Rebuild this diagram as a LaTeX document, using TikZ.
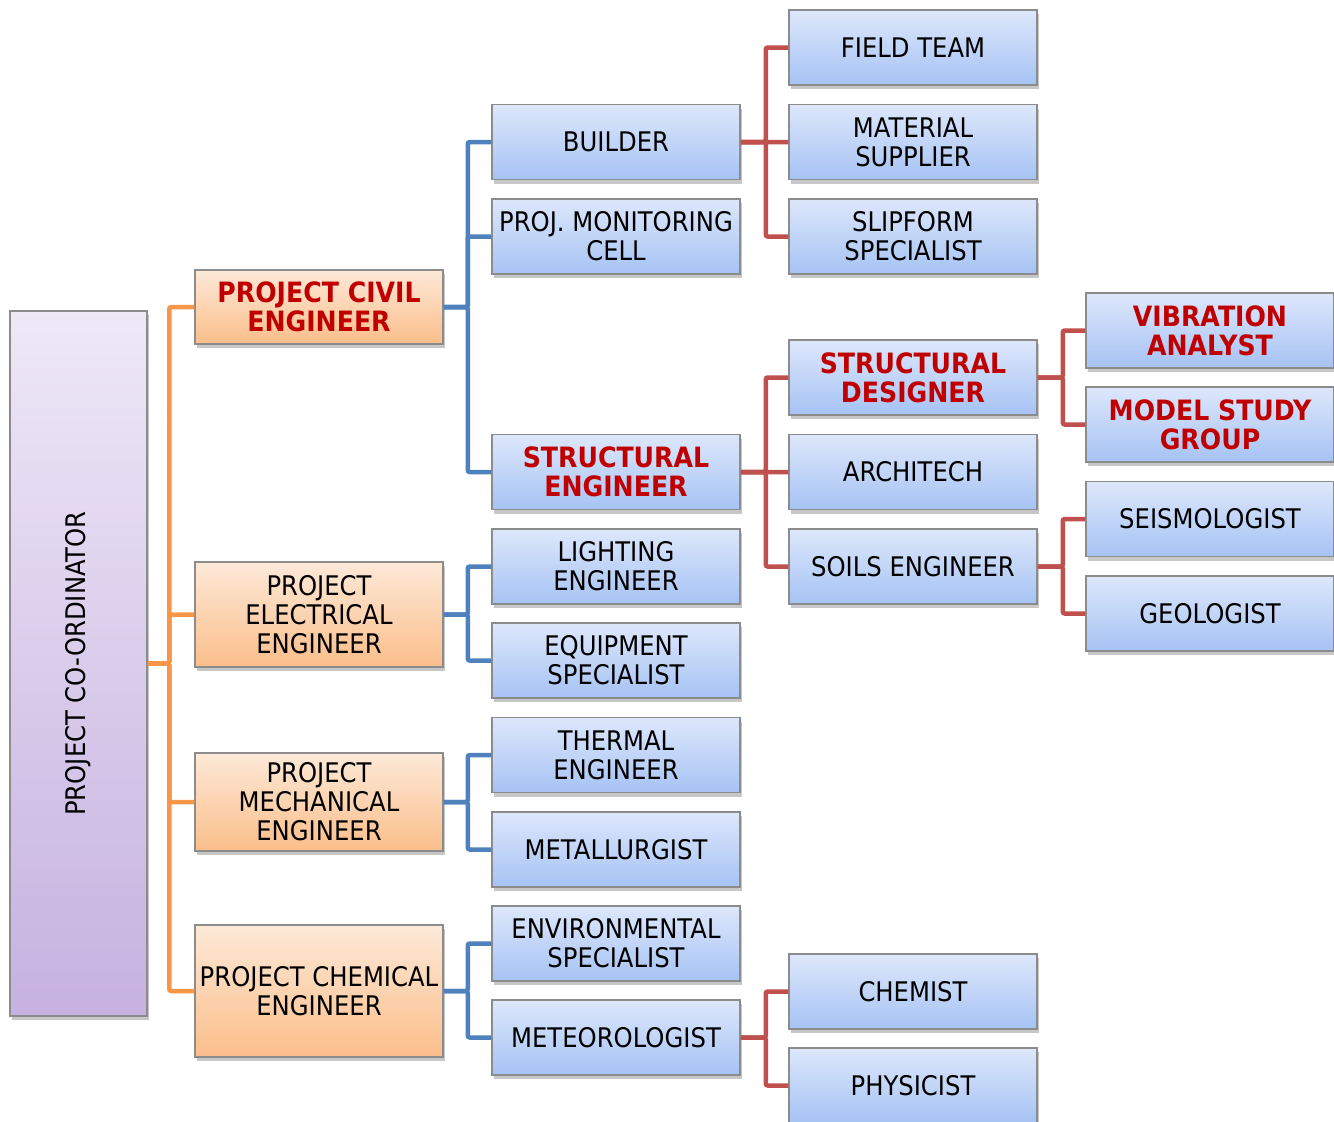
\documentclass[tikz,border=0pt]{standalone}
\usepackage{fontspec}
\setmainfont{DejaVu Sans}[FakeStretch=0.9]
\usetikzlibrary{shadows}
\definecolor{olin}{HTML}{F79646}
\definecolor{blin}{HTML}{4F81BD}
\definecolor{rlin}{HTML}{C0504D}
\definecolor{redtxt}{HTML}{C00000}
\definecolor{btop}{HTML}{DDE7FB}
\definecolor{bbot}{HTML}{A6C3F4}
\definecolor{otop}{HTML}{FDE9D8}
\definecolor{obot}{HTML}{FBBE8A}
\definecolor{ptop}{HTML}{EEE8F7}
\definecolor{pbot}{HTML}{C6B1E0}
\definecolor{bord}{HTML}{8C8C8C}
\tikzset{
  basebox/.style={draw=bord, line width=1.5pt, inner sep=2pt, align=center,
    font=\fontsize{27}{29}\selectfont,
    drop shadow={shadow xshift=2pt, shadow yshift=-4pt, opacity=0.22, fill=black}},
  bluebox/.style={basebox, top color=btop, bottom color=bbot},
  orabox/.style={basebox, top color=otop, bottom color=obot},
  purbox/.style={basebox, top color=ptop, bottom color=pbot},
  hl/.style={font=\fontsize{28}{29}\selectfont\bfseries, text=redtxt},
  oline/.style={draw=olin, line width=4.5pt, rounded corners=2pt},
  bline/.style={draw=blin, line width=4.5pt, rounded corners=2pt},
  rline/.style={draw=rlin, line width=4.5pt, rounded corners=2pt},
}
\newcommand\mkbox[6]{\node[#1, minimum width=#4pt, minimum height=#5pt] (#2) at (#3) {#6};}
\begin{document}
\begin{tikzpicture}[x=1pt,y=-1pt]
\useasboundingbox (0,0) rectangle (1334,1122);
\clip (0,0) rectangle (1334,1122);
% column 1
\node[purbox, minimum width=137pt, minimum height=705pt] (coord) at (78.5,663.5) {};
\node[rotate=90, font=\fontsize{27}{29}\selectfont] (coordtxt) at (coord.center) {PROJECT CO-ORDINATOR};
% column 2
\mkbox{orabox,hl}{civil}{319,307}{248}{74}{PROJECT CIVIL\\ENGINEER}
\mkbox{orabox}{elec}{319,614.5}{248}{105}{PROJECT\\ELECTRICAL\\ENGINEER}
\mkbox{orabox}{mech}{319,802}{248}{98}{PROJECT\\MECHANICAL\\ENGINEER}
\mkbox{orabox}{chem}{319,991}{248}{132}{PROJECT CHEMICAL\\ENGINEER}
% column 3
\mkbox{bluebox}{builder}{616,142}{248}{75}{BUILDER}
\mkbox{bluebox}{pmc}{616,236.5}{248}{75}{PROJ. MONITORING\\CELL}
\mkbox{bluebox,hl}{streng}{616,472}{248}{75}{STRUCTURAL\\ENGINEER}
\mkbox{bluebox}{light}{616,566.5}{248}{75}{LIGHTING\\ENGINEER}
\mkbox{bluebox}{equip}{616,660.5}{248}{75}{EQUIPMENT\\SPECIALIST}
\mkbox{bluebox}{therm}{616,755}{248}{75}{THERMAL\\ENGINEER}
\mkbox{bluebox}{metal}{616,849.5}{248}{75}{METALLURGIST}
\mkbox{bluebox}{envir}{616,943.5}{248}{75}{ENVIRONMENTAL\\SPECIALIST}
\mkbox{bluebox}{meteo}{616,1037.5}{248}{75}{METEOROLOGIST}
% column 4
\mkbox{bluebox}{field}{913,47.5}{248}{75}{FIELD TEAM}
\mkbox{bluebox}{matsup}{913,142}{248}{75}{MATERIAL\\SUPPLIER}
\mkbox{bluebox}{slip}{913,236.5}{248}{75}{SLIPFORM\\SPECIALIST}
\mkbox{bluebox,hl}{strdes}{913,377.5}{248}{75}{STRUCTURAL\\DESIGNER}
\mkbox{bluebox}{arch}{913,472}{248}{75}{ARCHITECH}
\mkbox{bluebox}{soils}{913,566.5}{248}{75}{SOILS ENGINEER}
\mkbox{bluebox}{chemist}{913,991.5}{248}{75}{CHEMIST}
\mkbox{bluebox}{phys}{913,1085.5}{248}{75}{PHYSICIST}
% column 5
\mkbox{bluebox,hl}{vib}{1210,330.5}{248}{75}{VIBRATION\\ANALYST}
\mkbox{bluebox,hl}{model}{1210,424.5}{248}{75}{MODEL STUDY\\GROUP}
\mkbox{bluebox}{seis}{1210,519}{248}{75}{SEISMOLOGIST}
\mkbox{bluebox}{geo}{1210,613.5}{248}{75}{GEOLOGIST}
% orange connectors
\foreach \c in {civil,elec,mech,chem}
  \draw[oline] (coord.east) -| ([xshift=-25pt]\c.west) -- (\c.west);
% blue connectors
\foreach \c in {builder,pmc,streng} \draw[bline] (civil.east) -- ++(24,0) |- (\c.west);
\foreach \c in {light,equip} \draw[bline] (elec.east) -- ++(24,0) |- (\c.west);
\foreach \c in {therm,metal} \draw[bline] (mech.east) -- ++(24,0) |- (\c.west);
\foreach \c in {envir,meteo} \draw[bline] (chem.east) -- ++(24,0) |- (\c.west);
% red connectors
\foreach \c in {field,matsup,slip} \draw[rline] (builder.east) -- ++(25,0) |- (\c.west);
\foreach \c in {strdes,arch,soils} \draw[rline] (streng.east) -- ++(25,0) |- (\c.west);
\foreach \c in {vib,model} \draw[rline] (strdes.east) -- ++(25,0) |- (\c.west);
\foreach \c in {seis,geo} \draw[rline] (soils.east) -- ++(25,0) |- (\c.west);
\foreach \c in {chemist,phys} \draw[rline] (meteo.east) -- ++(25,0) |- (\c.west);
\end{tikzpicture}
\end{document}
